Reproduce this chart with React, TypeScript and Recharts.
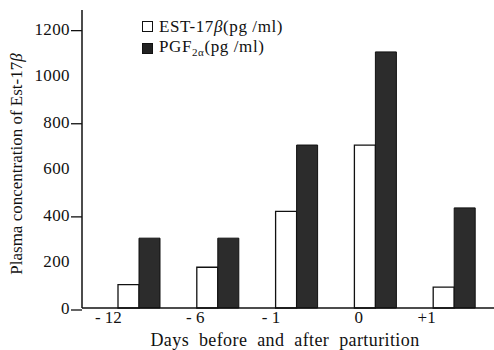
import { BarChart, Bar, XAxis, YAxis } from 'recharts'

const days = ['- 12', '- 6', '- 1', '0', '+1']
const est17b = [100, 175, 415, 700, 90]
const pgf2a = [300, 300, 700, 1100, 430]
const yTicks = [0, 200, 400, 600, 800, 1000, 1200]

const data = days.map((day, i) => ({ day, est: est17b[i], pgf: pgf2a[i] }))

// the scanned figure sets its day labels a little left of each bar pair
const tickShift = [-31, -23, -26, -17, -28]

const FONT = '"Liberation Serif", "DejaVu Serif", serif'
const txt = { fontFamily: FONT, fill: '#111' }

function YTick({ x, y, payload }: any) {
    const major = payload.value % 400 === 0
    return (
        <g>
            <text x={x - 12} y={y} dy={6} textAnchor="end" fontFamily={FONT} style={{ ...txt, fontSize: 17, letterSpacing: 0.4 }}>
                {payload.value}
            </text>
            {major && <line x1={x - 11} x2={x} y1={y + 2} y2={y + 2} stroke="#111" strokeWidth={1.3} />}
        </g>
    )
}

function XTick({ x, y, payload, index }: any) {
    return (
        <text x={x + tickShift[index]} y={y} dy={15} textAnchor="middle" fontFamily={FONT} style={{ ...txt, fontSize: 17 }}>
            {payload.value}
        </text>
    )
}

function YTitle() {
    return (
        <text x={22} y={164} transform="rotate(-90 22 164)" textAnchor="middle" fontFamily={FONT} style={{ ...txt, fontSize: 17 }}>
            Plasma concentration of Est-17<tspan fontStyle="italic">β</tspan>
        </text>
    )
}

function XTitle() {
    return (
        <text x={285} y={346} textAnchor="middle" fontFamily={FONT} style={{ ...txt, fontSize: 18, wordSpacing: 5, letterSpacing: 0.4 }}>
            Days before and after parturition
        </text>
    )
}

function ChartLegend() {
    const row = { display: 'flex', alignItems: 'center', height: 22 }
    const box = { width: 9, height: 9, border: '1px solid #111', marginRight: 6 }
    return (
        <div
            style={{
                position: 'absolute',
                top: 15,
                left: 142,
                fontFamily: FONT,
                fontSize: 17,
                color: '#111',
                lineHeight: 1,
                letterSpacing: 0.6,
                whiteSpace: 'nowrap'
            }}
        >
            <div style={row}>
                <span style={{ ...box, background: '#fff' }} />
                <span>EST-17<i>β</i>(pg /ml)</span>
            </div>
            <div style={row}>
                <span style={{ ...box, background: '#222' }} />
                <span>PGF<sub style={{ fontSize: 11 }}>2α</sub>(pg /ml)</span>
            </div>
        </div>
    )
}

export default function App() {
    return (
        <div style={{ position: 'absolute', left: 0, top: 0, width: 494, height: 350, background: '#fff' }}>
            <BarChart
                width={494}
                height={350}
                data={data}
                margin={{ top: 10, right: 0, bottom: 0, left: 0 }}
                barSize={21}
                barGap={0}
            >
                <XAxis
                    dataKey="day"
                    height={42}
                    padding={{ left: 18, right: 0 }}
                    tickLine={false}
                    tickSize={0}
                    tickMargin={0}
                    axisLine={{ stroke: '#111', strokeWidth: 1.5 }}
                    tick={<XTick />}
                    interval={0}
                    label={<XTitle />}
                />
                <YAxis
                    width={82}
                    domain={[0, 1280]}
                    ticks={yTicks}
                    interval={0}
                    tickLine={false}
                    tickSize={0}
                    tickMargin={0}
                    axisLine={{ stroke: '#111', strokeWidth: 1.5 }}
                    tick={<YTick />}
                    label={<YTitle />}
                />
                <Bar dataKey="est" fill="#fff" stroke="#111" strokeWidth={1.3} isAnimationActive={false} />
                <Bar dataKey="pgf" fill="#2c2c2c" stroke="#111" strokeWidth={1} isAnimationActive={false} />
            </BarChart>
            <ChartLegend />
        </div>
    )
}
